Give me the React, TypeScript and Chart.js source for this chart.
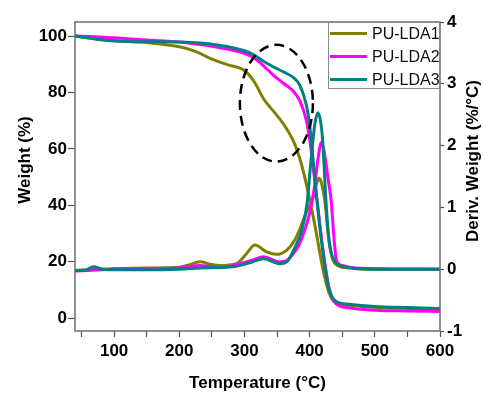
import { useEffect, useRef } from "react";
import { Chart, registerables } from "chart.js";

Chart.register(...registerables);

// ---- data ----
const seriesNames = ["PU-LDA1", "PU-LDA2", "PU-LDA3"];
const seriesColors = ["#808000", "#ff00ff", "#008080"];

// TGA: weight (%) vs temperature (°C)
const tgaTemps = [40, 70, 100, 150, 200, 225, 250, 275, 300, 315, 330, 345, 360, 375, 385, 395, 400, 405, 410, 415, 420, 425, 430, 440, 460, 500, 550, 600];
const tgaLDA1 = [100, 99.1, 98.4, 97.7, 96.2, 94.6, 91.8, 89.8, 87.8, 83.8, 77.5, 73.2, 68.8, 62.8, 56.5, 47.5, 42, 36.5, 30.5, 24, 17.8, 12.8, 8.8, 5.3, 4.5, 3.8, 3.4, 3.2];
const tgaLDA2 = [100, 99.8, 99.4, 98.6, 97.9, 97.2, 96.4, 95.3, 93.9, 92.2, 89.3, 86.0, 83.2, 80.4, 77.0, 70.0, 63.5, 54.5, 44.5, 34.5, 25, 17, 10.5, 5.2, 3.6, 2.8, 2.5, 2.3];
const tgaLDA3 = [100, 99.0, 98.3, 98.0, 97.9, 97.6, 97.1, 96.2, 94.8, 93.3, 91.0, 89.0, 87.3, 85.3, 82.5, 75.5, 68.5, 57, 44.5, 33.5, 24, 16, 10, 6.0, 4.9, 4.1, 3.7, 3.4];

// DTG: derivative weight (%/°C) vs temperature (°C)
const dtgTempsLDA1 = [40, 70, 100, 150, 200, 215, 232, 248, 262, 288, 303, 316, 334, 349, 365, 377, 385, 396, 405, 410, 414, 418, 421, 424, 428, 432, 437, 445, 460, 500, 600];
const dtgLDA1 = [-0.02, 0.0, 0.01, 0.02, 0.03, 0.07, 0.12, 0.08, 0.06, 0.09, 0.25, 0.39, 0.28, 0.24, 0.31, 0.47, 0.65, 0.95, 1.15, 1.36, 1.47, 1.4, 1.25, 1.05, 0.6, 0.3, 0.12, 0.05, 0.02, 0.0, 0.0];
const dtgTempsLDA2 = [40, 60, 100, 150, 200, 232, 260, 283, 313, 329, 354, 365, 374, 382, 388, 396, 402, 408, 413, 418, 422, 428, 433, 437, 441, 450, 470, 600];
const dtgLDA2 = [-0.03, -0.02, 0.0, 0.01, 0.02, 0.06, 0.03, 0.06, 0.15, 0.2, 0.12, 0.14, 0.24, 0.36, 0.5, 0.75, 1.0, 1.38, 1.8, 2.05, 1.92, 1.48, 1.11, 0.55, 0.15, 0.06, 0.02, 0.0];
const dtgTempsLDA3 = [40, 55, 68, 82, 100, 150, 200, 232, 283, 313, 329, 354, 365, 380, 388, 396, 402, 408, 413, 417, 420, 425, 429, 433, 440, 459, 500, 600];
const dtgLDA3 = [-0.02, -0.02, 0.04, 0.0, -0.01, -0.01, 0.0, 0.02, 0.04, 0.12, 0.17, 0.09, 0.12, 0.41, 0.63, 1.06, 1.75, 2.35, 2.53, 2.38, 2.08, 1.11, 0.55, 0.27, 0.11, 0.03, 0.0, 0.0];

// axis ticks
const tempTicks = [50, 100, 150, 200, 250, 300, 350, 400, 450, 500, 550, 600];
const weightTicks = [0, 20, 40, 60, 80, 100];
const derivTicks = [-1, 0, 1, 2, 3, 4];

// dashed highlight ellipse (temperature °C, weight %)
const highlightCenter = [349, 76.2];
const highlightRadii = [56, 20.7];

const FONT = "'Liberation Sans', Arial, Helvetica, sans-serif";

function pts(xs: number[], ys: number[]) {
  return xs.map((x, i) => ({ x, y: ys[i] }));
}

const overlayPlugin = {
  id: "overlay",
  afterDatasetsDraw(chart: any) {
    const { ctx, scales } = chart;
    const xs = scales.x;
    const ys = scales.y;
    const cx = xs.getPixelForValue(highlightCenter[0]);
    const cy = ys.getPixelForValue(highlightCenter[1]);
    const rx = Math.abs(xs.getPixelForValue(highlightCenter[0] + highlightRadii[0]) - cx);
    const ry = Math.abs(ys.getPixelForValue(highlightCenter[1] + highlightRadii[1]) - cy);
    ctx.save();
    ctx.beginPath();
    ctx.ellipse(cx, cy, rx, ry, 0, 0, Math.PI * 2);
    ctx.setLineDash([10, 6]);
    ctx.lineWidth = 2.5;
    ctx.strokeStyle = "#000";
    ctx.stroke();
    ctx.restore();
  },
  afterDraw(chart: any) {
    const { ctx, chartArea } = chart;
    const { left, right, top, bottom } = chartArea;
    ctx.save();
    // frame
    ctx.strokeStyle = "#6e6e6e";
    ctx.lineWidth = 1.5;
    ctx.strokeRect(left, top, right - left, bottom - top);

    // legend box
    const bw = 112;
    const bh = 67;
    const bx = right - bw;
    const by = top;
    ctx.fillStyle = "#fff";
    ctx.fillRect(bx, by, bw, bh);
    ctx.lineWidth = 1;
    ctx.strokeStyle = "#8a8a8a";
    ctx.strokeRect(bx + 0.5, by + 0.5, bw - 1, bh - 1);
    ctx.font = `16px ${FONT}`;
    ctx.textBaseline = "middle";
    ctx.textAlign = "left";
    seriesNames.forEach((name, i) => {
      const ry = by + 11.5 + i * 23;
      ctx.beginPath();
      ctx.moveTo(bx + 2, ry);
      ctx.lineTo(bx + 39, ry);
      ctx.strokeStyle = seriesColors[i];
      ctx.lineWidth = 3;
      ctx.stroke();
      ctx.fillStyle = "#111";
      ctx.fillText(name, bx + 44, ry + 1);
    });

    // axis titles
    ctx.fillStyle = "#000";
    ctx.font = `bold 17px ${FONT}`;
    ctx.textAlign = "center";
    ctx.textBaseline = "middle";
    ctx.save();
    ctx.translate(25, 160);
    ctx.rotate(-Math.PI / 2);
    ctx.fillText("Weight (%)", 0, 0);
    ctx.restore();
    ctx.save();
    ctx.translate(473, 161);
    ctx.rotate(-Math.PI / 2);
    ctx.fillText("Deriv. Weight (%/°C)", 0, 0);
    ctx.restore();
    ctx.fillText("Temperature (°C)", (left + right) / 2, 383);
    ctx.restore();
  },
};

export default function App() {
  const ref = useRef<HTMLCanvasElement | null>(null);

  useEffect(() => {
    document.body.style.margin = "0";
    const canvas = ref.current;
    if (!canvas) return;

    const tickFont = { family: FONT, size: 17, weight: "bold" as const };
    const mk = (label: string, data: any[], color: string, axis: string, order: number) => ({
      label,
      data,
      borderColor: color,
      backgroundColor: color,
      borderWidth: 3,
      pointRadius: 0,
      fill: false,
      cubicInterpolationMode: "monotone" as const,
      yAxisID: axis,
      order,
    });

    const chart = new Chart(canvas, {
      type: "line",
      data: {
        datasets: [
          mk(seriesNames[0], pts(tgaTemps, tgaLDA1), seriesColors[0], "y", 2),
          mk(seriesNames[1], pts(tgaTemps, tgaLDA2), seriesColors[1], "y", 1),
          mk(seriesNames[2], pts(tgaTemps, tgaLDA3), seriesColors[2], "y", 0),
          mk(seriesNames[0] + " DTG", pts(dtgTempsLDA1, dtgLDA1), seriesColors[0], "y1", 2),
          mk(seriesNames[1] + " DTG", pts(dtgTempsLDA2, dtgLDA2), seriesColors[1], "y1", 1),
          mk(seriesNames[2] + " DTG", pts(dtgTempsLDA3, dtgLDA3), seriesColors[2], "y1", 0),
        ],
      },
      options: {
        animation: false,
        responsive: false,
        devicePixelRatio: 1,
        layout: { padding: { top: 22, left: 0, right: 0, bottom: 0 } },
        plugins: {
          legend: { display: false },
          tooltip: { enabled: false },
        },
        scales: {
          x: {
            type: "linear",
            position: "bottom",
            min: 40,
            max: 600,
            afterBuildTicks: (s: any) => {
              s.ticks = tempTicks.map((v) => ({ value: v }));
            },
            afterFit: (s: any) => {
              s.height = 63;
            },
            ticks: {
              autoSkip: false,
              maxRotation: 0,
              padding: 4,
              color: "#000",
              font: tickFont,
              callback: (v: any) => (Number(v) % 100 === 0 ? String(v) : ""),
            },
            grid: { drawOnChartArea: false, drawTicks: true, tickLength: 6, tickColor: "#555", tickWidth: 1.2 },
            border: { display: false },
          },
          y: {
            type: "linear",
            position: "left",
            min: -4.6,
            max: 105,
            afterBuildTicks: (s: any) => {
              s.ticks = weightTicks.map((v) => ({ value: v }));
            },
            afterFit: (s: any) => {
              s.width = 75;
            },
            ticks: { padding: 1, color: "#000", font: tickFont },
            grid: { drawOnChartArea: false, drawTicks: true, tickLength: 7, tickColor: "#555", tickWidth: 1.2 },
            border: { display: false },
          },
          y1: {
            type: "linear",
            position: "right",
            min: -1,
            max: 4,
            afterBuildTicks: (s: any) => {
              s.ticks = derivTicks.map((v) => ({ value: v }));
            },
            afterFit: (s: any) => {
              s.width = 43;
            },
            ticks: { padding: 3, color: "#000", font: tickFont },
            grid: { drawOnChartArea: false, drawTicks: true, tickLength: 4, tickColor: "#555", tickWidth: 1.2 },
            border: { display: false },
          },
        },
      },
      plugins: [overlayPlugin],
    });

    return () => chart.destroy();
  }, []);

  return (
    <div style={{ width: 483, height: 394 }}>
      <canvas ref={ref} width={483} height={394} />
    </div>
  );
}
